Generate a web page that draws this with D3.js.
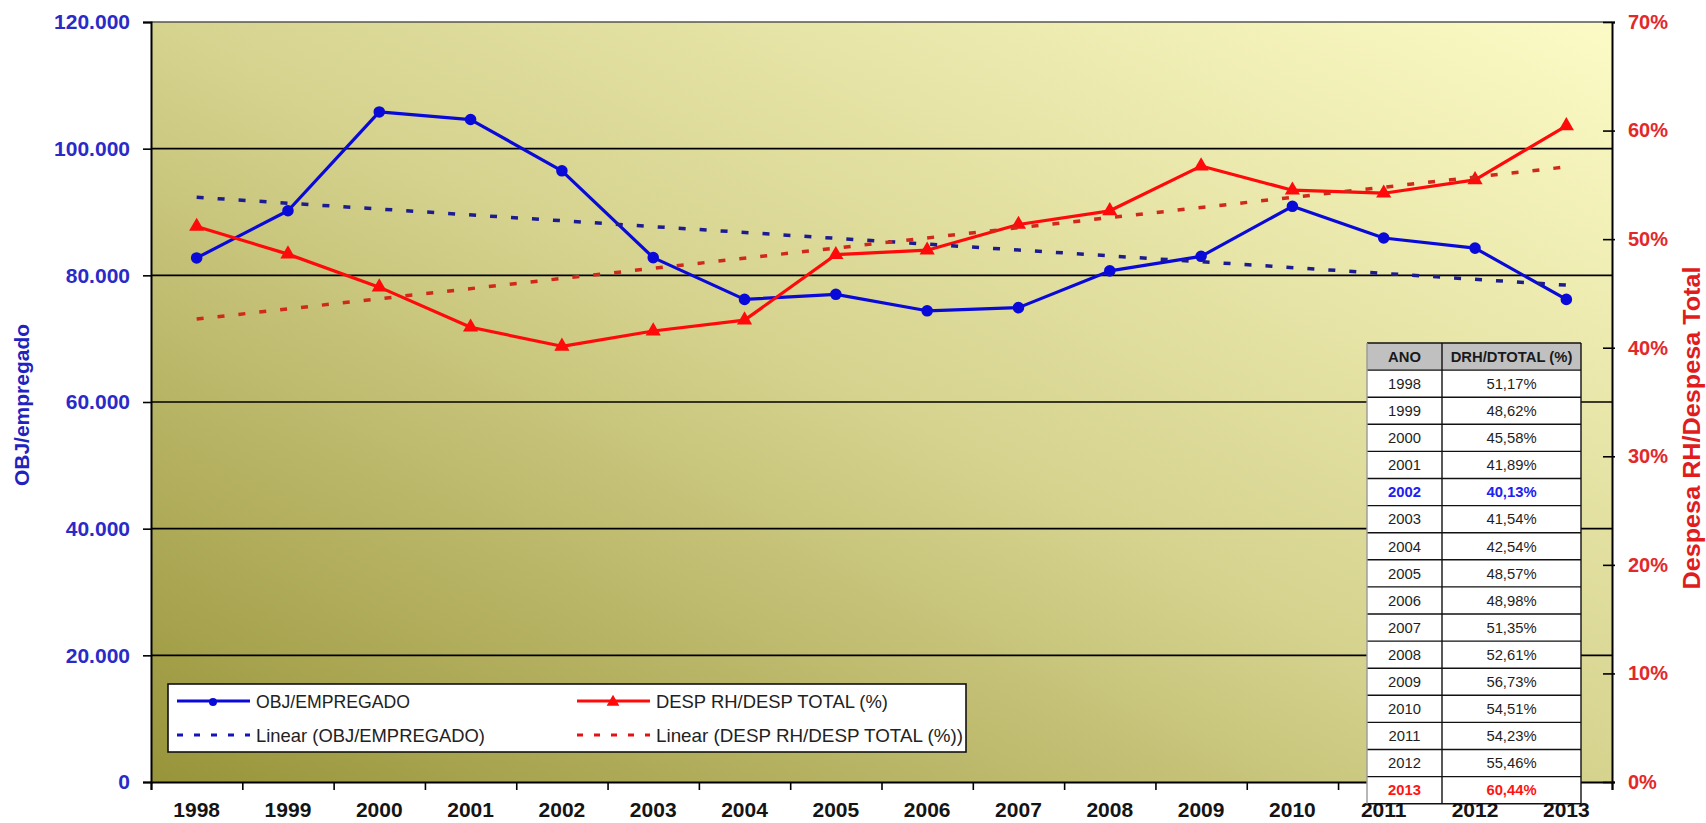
<!DOCTYPE html>
<html>
<head>
<meta charset="utf-8">
<script src="https://cdn.jsdelivr.net/npm/d3@7"></script>
<style>
  html, body { margin: 0; padding: 0; background: #ffffff; }
  svg { display: block; font-family: "Liberation Sans", Arial, sans-serif; }
</style>
</head>
<body>
<svg id="chart" width="1706" height="823"></svg>
<script>
// ---- data ----
const years = ["1998","1999","2000","2001","2002","2003","2004","2005",
               "2006","2007","2008","2009","2010","2011","2012","2013"];
const objPorEmpregado = [82750, 90200, 105800, 104600, 96500, 82800, 76200, 77000,
                         74400, 74900, 80700, 83000, 90900, 85900, 84300, 76200];
const despRhPct = [51.17, 48.62, 45.58, 41.89, 40.13, 41.54, 42.54, 48.57,
                   48.98, 51.35, 52.61, 56.73, 54.51, 54.23, 55.46, 60.44];
const leftTicks = [0, 20000, 40000, 60000, 80000, 100000, 120000];
const rightTicks = [0, 10, 20, 30, 40, 50, 60, 70];
const seriesNames = ["OBJ/EMPREGADO", "DESP RH/DESP TOTAL (%)"];
const trendNames = ["Linear (OBJ/EMPREGADO)", "Linear (DESP RH/DESP TOTAL (%))"];
const tableHeader = ["ANO", "DRH/DTOTAL (%)"];

// ---- formatting ----
const ptBR = d3.formatLocale({decimal: ",", thousands: ".", grouping: [3], currency: ["", ""]});
const fmtThousands = ptBR.format(",");
const fmtPct2 = v => ptBR.format(".2f")(v) + "%";

// ---- layout ----
const L = 151, R = 1612, T = 22, B = 782;
const BLUE = "#0a0ad8", RED = "#ff0a0a";

const svg = d3.select("#chart");
const x = d3.scaleBand().domain(years).range([L, R]).padding(0);
const xIdx = d3.scaleLinear().domain([0, years.length]).range([L, R]);
const yL = d3.scaleLinear().domain([0, 120000]).range([B, T]);
const yR = d3.scaleLinear().domain([0, 70]).range([B, T]);
const cx = y => x(y) + x.bandwidth() / 2;

// plot area gradient
const defs = svg.append("defs");
const grad = defs.append("linearGradient").attr("id", "plotBg")
  .attr("x1", 0).attr("y1", 1).attr("x2", 1).attr("y2", 0);
grad.append("stop").attr("offset", "0%").attr("stop-color", "#98943a");
grad.append("stop").attr("offset", "50%").attr("stop-color", "#d6d38f");
grad.append("stop").attr("offset", "100%").attr("stop-color", "#fcfbc6");

svg.append("rect").attr("x", L).attr("y", T).attr("width", R - L).attr("height", B - T)
  .attr("fill", "url(#plotBg)");

// horizontal gridlines
svg.append("g").selectAll("line").data(leftTicks.filter(t => t > 0)).join("line")
  .attr("x1", L).attr("x2", R)
  .attr("y1", d => yL(d)).attr("y2", d => yL(d))
  .attr("stroke", d => d === 120000 ? "#555" : "#000").attr("stroke-width", 1.6);

// left axis
const axL = svg.append("g").attr("transform", `translate(${L},0)`)
  .call(d3.axisLeft(yL).tickValues(leftTicks).tickFormat(fmtThousands).tickSize(8).tickPadding(13));
axL.select(".domain").attr("stroke", "#000").attr("stroke-width", 2);
axL.selectAll(".tick line").attr("stroke", "#000").attr("stroke-width", 1.6);
axL.selectAll(".tick text").attr("fill", "#2a2ac8").style("font-size", "21px").style("font-weight", "bold");

// right axis
const axR = svg.append("g").attr("transform", `translate(${R},0)`)
  .call(d3.axisRight(yR).tickValues(rightTicks).tickFormat(d => d + "%").tickSize(3).tickPadding(13));
axR.select(".domain").attr("stroke", "#000").attr("stroke-width", 2);
axR.selectAll(".tick line").attr("x1", -9).attr("stroke", "#000").attr("stroke-width", 1.6);
axR.selectAll(".tick text").attr("fill", "#e22828").style("font-size", "20px").style("font-weight", "bold");

// bottom axis: ticks on category boundaries, labels at category centres
const axB = svg.append("g").attr("transform", `translate(0,${B})`)
  .call(d3.axisBottom(xIdx).tickValues(d3.range(years.length + 1)).tickFormat("").tickSize(8));
axB.select(".domain").attr("stroke", "#000").attr("stroke-width", 2);
axB.selectAll(".tick line").attr("stroke", "#000").attr("stroke-width", 1.6);

const axBL = svg.append("g").attr("transform", `translate(0,${B})`)
  .call(d3.axisBottom(x).tickSize(0).tickPadding(20));
axBL.select(".domain").remove();
axBL.selectAll(".tick text").attr("fill", "#141414").style("font-size", "21px").style("font-weight", "bold");

// axis titles
svg.append("text").attr("transform", `translate(29,405) rotate(-90)`)
  .attr("text-anchor", "middle").attr("fill", "#2222c0")
  .style("font-size", "21px").style("font-weight", "bold").text("OBJ/empregado");
svg.append("text").attr("transform", `translate(1700,428) rotate(-90)`)
  .attr("text-anchor", "middle").attr("fill", "#e01c1c")
  .attr("textLength", 323).attr("lengthAdjust", "spacingAndGlyphs")
  .style("font-size", "23px").style("font-weight", "bold").text("Despesa RH/Despesa Total");

// linear trend (least squares over the year index)
function linearFit(vals) {
  const n = vals.length, xs = d3.range(n);
  const mx = d3.mean(xs), my = d3.mean(vals);
  const b = d3.sum(xs, i => (i - mx) * (vals[i] - my)) / d3.sum(xs, i => (i - mx) ** 2);
  return i => my + b * (i - mx);
}

// series
const blueLine = d3.line().x((d, i) => cx(years[i])).y(d => yL(d));
const redLine = d3.line().x((d, i) => cx(years[i])).y(d => yR(d));

svg.append("path").datum(objPorEmpregado).attr("d", blueLine)
  .attr("fill", "none").attr("stroke", BLUE).attr("stroke-width", 3.2).attr("stroke-linejoin", "round");
svg.append("g").selectAll("path").data(objPorEmpregado).join("path")
  .attr("d", d3.symbol(d3.symbolCircle, 105))
  .attr("transform", (d, i) => `translate(${cx(years[i])},${yL(d)})`)
  .attr("fill", BLUE);

svg.append("path").datum(despRhPct).attr("d", redLine)
  .attr("fill", "none").attr("stroke", RED).attr("stroke-width", 3.2).attr("stroke-linejoin", "round");
svg.append("g").selectAll("path").data(despRhPct).join("path")
  .attr("d", d3.symbol(d3.symbolTriangle, 100))
  .attr("transform", (d, i) => `translate(${cx(years[i])},${yR(d)})`)
  .attr("fill", RED);

// trend lines
const fitB = linearFit(objPorEmpregado), fitR = linearFit(despRhPct);
const last = years.length - 1;
svg.append("line")
  .attr("x1", cx(years[0])).attr("y1", yL(fitB(0)))
  .attr("x2", cx(years[last])).attr("y2", yL(fitB(last)))
  .attr("stroke", "#1c1c90").attr("stroke-width", 3.5).attr("stroke-dasharray", "7,14");
svg.append("line")
  .attr("x1", cx(years[0])).attr("y1", yR(fitR(0)))
  .attr("x2", cx(years[last])).attr("y2", yR(fitR(last)))
  .attr("stroke", "#d0281a").attr("stroke-width", 3.5).attr("stroke-dasharray", "7,14");

// legend
const lg = svg.append("g");
lg.append("rect").attr("x", 168).attr("y", 684).attr("width", 798).attr("height", 68)
  .attr("fill", "#ffffff").attr("stroke", "#111").attr("stroke-width", 1.6);
const legendItems = [
  {name: seriesNames[0], x: 177, y: 701, color: BLUE, dash: null, sym: d3.symbolCircle, len: 154},
  {name: trendNames[0], x: 177, y: 735, color: "#1414b8", dash: "6,11", sym: null, len: 229},
  {name: seriesNames[1], x: 577, y: 701, color: RED, dash: null, sym: d3.symbolTriangle, len: 232},
  {name: trendNames[1], x: 577, y: 735, color: "#e01414", dash: "6,11", sym: null, len: 307}
];
legendItems.forEach(it => {
  lg.append("line").attr("x1", it.x).attr("x2", it.x + 73).attr("y1", it.y).attr("y2", it.y)
    .attr("stroke", it.color).attr("stroke-width", 3.2).attr("stroke-dasharray", it.dash);
  if (it.sym) {
    lg.append("path").attr("d", d3.symbol(it.sym, it.sym === d3.symbolCircle ? 50 : 70))
      .attr("transform", `translate(${it.x + 36},${it.y + 1})`).attr("fill", it.color);
  }
  lg.append("text").attr("x", it.x + 79).attr("y", it.y).attr("dy", "0.36em")
    .attr("fill", "#222").attr("textLength", it.len).attr("lengthAdjust", "spacingAndGlyphs")
    .style("font-size", "18.5px").text(it.name);
});

// data table
const tx = [1367, 1442, 1581];
const tTop = 343, rowH = 27.1;
const iMin = d3.minIndex(despRhPct), iMax = d3.maxIndex(despRhPct);
const tbl = svg.append("g");
tbl.append("rect").attr("x", tx[0]).attr("y", tTop).attr("width", tx[2] - tx[0]).attr("height", rowH)
  .attr("fill", "#c0c0c0");
tbl.append("rect").attr("x", tx[0]).attr("y", tTop + rowH).attr("width", tx[2] - tx[0])
  .attr("height", rowH * years.length).attr("fill", "#ffffff");
// grid of the table
d3.range(years.length + 2).forEach(r => {
  tbl.append("line").attr("x1", tx[0]).attr("x2", tx[2])
    .attr("y1", tTop + r * rowH).attr("y2", tTop + r * rowH)
    .attr("stroke", "#111").attr("stroke-width", 1.4);
});
tx.forEach((xx, k) => {
  tbl.append("line").attr("x1", xx).attr("x2", xx)
    .attr("y1", tTop).attr("y2", tTop + rowH * (years.length + 1))
    .attr("stroke", k === 0 ? "#999" : "#111").attr("stroke-width", 1.4);
});
tableHeader.forEach((h, k) => {
  tbl.append("text").attr("x", (tx[k] + tx[k + 1]) / 2).attr("y", tTop + rowH / 2).attr("dy", "0.36em")
    .attr("text-anchor", "middle").attr("fill", "#1a1a1a")
    .style("font-size", "14.8px").style("font-weight", "bold").text(h);
});
years.forEach((yr, i) => {
  const color = i === iMin ? "#2020f0" : i === iMax ? "#ff1414" : "#1e1e1e";
  const bold = (i === iMin || i === iMax) ? "bold" : "normal";
  const yy = tTop + rowH * (i + 1) + rowH / 2;
  tbl.append("text").attr("x", (tx[0] + tx[1]) / 2).attr("y", yy).attr("dy", "0.36em")
    .attr("text-anchor", "middle").attr("fill", color)
    .style("font-size", "14.8px").style("font-weight", bold).text(yr);
  tbl.append("text").attr("x", (tx[1] + tx[2]) / 2).attr("y", yy).attr("dy", "0.36em")
    .attr("text-anchor", "middle").attr("fill", color)
    .style("font-size", "14.8px").style("font-weight", bold).text(fmtPct2(despRhPct[i]));
});
</script>
</body>
</html>
